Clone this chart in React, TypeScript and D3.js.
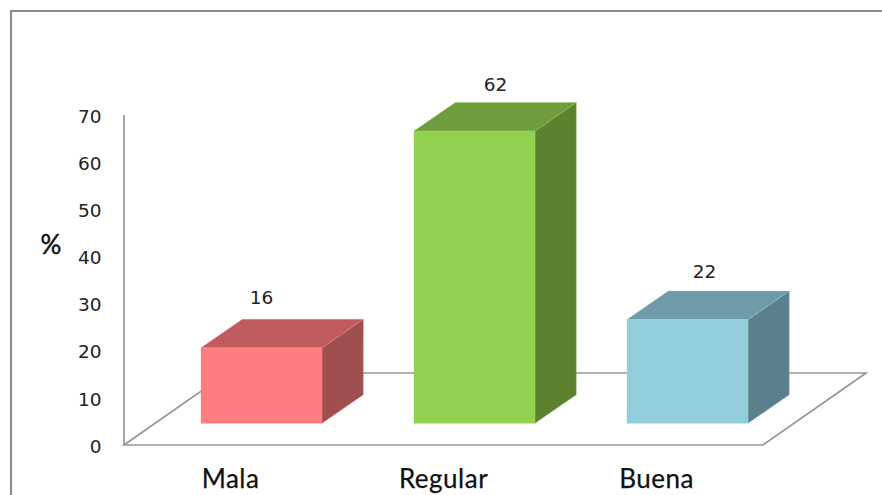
import React from "react";
import * as d3 from "d3";

const categories = ["Mala", "Regular", "Buena"];
const percentages = [16, 62, 22];
const frontColors = ["#ff7c80", "#92d050", "#92cddc"];
const topColors = ["#c05c5f", "#6f9c3d", "#6f9aa7"];
const sideColors = ["#a04f50", "#5c8230", "#5c808b"];
const yTicks = [0, 10, 20, 30, 40, 50, 60, 70];

const WIDTH = 882;
const HEIGHT = 495;
const FLOOR_DX = 103;
const FLOOR_DY = 72;
const BAR_DX = 41.3;
const BAR_DY = 28.5;
const LIFT_DX = 31;
const LIFT_DY = 21.7;
const AXIS = "#969696";
const TEXT = "#222222";
const NUM_FONT = "'DejaVu Sans', Verdana, sans-serif";
const HAND_FONT = "'Comic Sans MS', Lato, sans-serif";

// Data labels sit on the bar's top face, each nudged off the face's centre.
const labelShiftX = [0, 21, 17];
const labelGapY = [44, 40, 42];

const x = d3
  .scaleBand<string>()
  .domain(categories)
  .range([124, 763])
  .paddingInner(92 / 213)
  .paddingOuter(46 / 213);
const y = d3.scaleLinear().domain([0, 70]).range([445, 115]);

const poly = (pts: [number, number][]) => d3.line()(pts) + "Z";

export default function App() {
  const y0 = y(0);
  return (
    <svg
      width={WIDTH}
      height={HEIGHT}
      viewBox={`0 0 ${WIDTH} ${HEIGHT}`}
      style={{ position: "absolute", left: 0, top: 0, display: "block", background: "#fff" }}
    >
      {/* outer chart frame, running off the right and bottom edges */}
      <path d={`M11,${HEIGHT}V11H${WIDTH}`} fill="none" stroke="#8c8c8c" strokeWidth={2.2} />

      {/* floor and value axis */}
      <path
        d={poly([
          [124, y0],
          [763, y0],
          [763 + FLOOR_DX, y0 - FLOOR_DY],
          [124 + FLOOR_DX, y0 - FLOOR_DY],
        ])}
        fill="#fff"
        stroke={AXIS}
        strokeWidth={1.7}
      />
      <line x1={124} x2={124} y1={y(70)} y2={y0} stroke={AXIS} strokeWidth={1.7} />

      {yTicks.map((t) => (
        <text
          key={t}
          x={101.5}
          y={y(t) + 1}
          dy="0.36em"
          textAnchor="end"
          fontFamily={NUM_FONT}
          fontSize={18.5}
          fill={TEXT}
        >
          {t}
        </text>
      ))}
      <text
        x={51}
        y={254}
        textAnchor="middle"
        fontFamily={HAND_FONT}
        fontSize={26}
        fill="#111"
        stroke="#111"
        strokeWidth={0.5}
      >
        %
      </text>

      {categories.map((c, i) => {
        const left = (x(c) as number) + LIFT_DX;
        const right = left + x.bandwidth();
        const bottom = y0 - LIFT_DY;
        const top = bottom - (y0 - y(percentages[i]));
        const cx = (x(c) as number) + x.bandwidth() / 2;
        return (
          <g key={c}>
            <path
              d={poly([
                [right, top],
                [right + BAR_DX, top - BAR_DY],
                [right + BAR_DX, bottom - BAR_DY],
                [right, bottom],
              ])}
              fill={sideColors[i]}
              stroke={frontColors[i]}
              strokeOpacity={0.35}
            />
            <path
              d={poly([
                [left, top],
                [left + BAR_DX, top - BAR_DY],
                [right + BAR_DX, top - BAR_DY],
                [right, top],
              ])}
              fill={topColors[i]}
              stroke={frontColors[i]}
              strokeOpacity={0.35}
            />
            <rect
              x={left}
              y={top}
              width={x.bandwidth()}
              height={bottom - top}
              fill={frontColors[i]}
              stroke={frontColors[i]}
              strokeOpacity={0.35}
            />
            <text
              x={left + x.bandwidth() / 2 + labelShiftX[i]}
              y={top - labelGapY[i]}
              textAnchor="middle"
              fontFamily={NUM_FONT}
              fontSize={18.5}
              fill={TEXT}
            >
              {percentages[i]}
            </text>
            <text
              x={cx}
              y={488}
              textAnchor="middle"
              fontFamily={HAND_FONT}
              fontSize={26}
              letterSpacing={0.5}
              fill="#111"
              stroke="#111"
              strokeWidth={0.25}
            >
              {c}
            </text>
          </g>
        );
      })}
    </svg>
  );
}
